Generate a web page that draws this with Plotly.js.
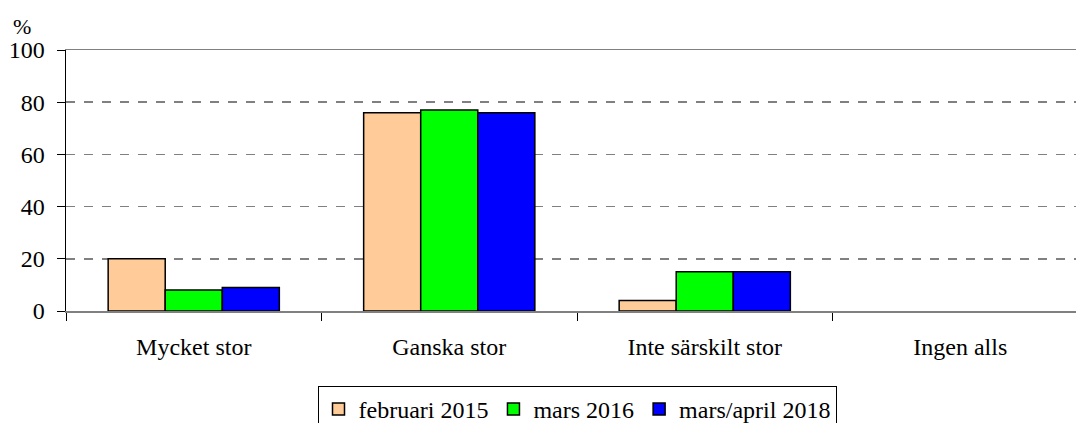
<!DOCTYPE html>
<html>
<head>
<meta charset="utf-8">
<script src="https://cdn.plot.ly/plotly-3.0.1.min.js"></script>
<style>
html, body { margin:0; padding:0; overflow:hidden; background:#fff; }
#chart { width:1100px; height:450px; }
</style>
</head>
<body>
<div id="chart"></div>
<script>
const categories = ["Mycket stor", "Ganska stor", "Inte särskilt stor", "Ingen alls"];
const seriesNames = ["februari 2015", "mars 2016", "mars/april 2018"];
const feb2015 = [20, 76, 4, 0];
const mars2016 = [8, 77, 15, 0];
const marsApril2018 = [9, 76, 15, 0];
const yTicks = [0, 20, 40, 60, 80, 100];
const colors = ["#FFCC99", "#00FF00", "#0000FF"];

const values = [feb2015, mars2016, marsApril2018];
const traces = values.map((v, i) => ({
  type: "bar",
  name: seriesNames[i],
  x: categories,
  y: v,
  marker: { color: colors[i], line: { color: "#000", width: v.map(d => d === 0 ? 0 : 1.5) } },
  hoverinfo: "skip"
}));

const fam = "Times New Roman, Liberation Serif, DejaVu Serif, serif";
const font = { family: fam, size: 24, color: "#000" };

const plotTop = 50, plotBottom = 311, H = 450;
const layout = {
  width: 1100,
  height: H,
  margin: { l: 66, r: 12, t: plotTop, b: H - plotBottom, autoexpand: false },
  paper_bgcolor: "#fff",
  plot_bgcolor: "#fff",
  font: font,
  barmode: "group",
  bargap: 0.33,
  bargroupgap: 0,
  showlegend: true,
  legend: {
    orientation: "h",
    x: 0.5, xanchor: "center",
    y: (plotBottom - 386) / (plotBottom - plotTop), yanchor: "top",
    bordercolor: "#000",
    borderwidth: 1,
    font: font,
    traceorder: "normal"
  },
  xaxis: {
    type: "category",
    showline: true,
    linecolor: "#808080",
    linewidth: 1.5,
    mirror: true,
    ticks: "outside",
    tickson: "boundaries",
    ticklen: 8,
    tickcolor: "#000",
    ticklabelstandoff: 14,
    showgrid: false,
    tickfont: font,
    automargin: false,
    fixedrange: true
  },
  yaxis: {
    range: [0, 100],
    tickvals: yTicks,
    ticktext: yTicks.map(String),
    showline: true,
    linecolor: "#000",
    linewidth: 1.5,
    ticks: "outside",
    ticklen: 8,
    tickcolor: "#000",
    ticklabelstandoff: 7,
    showgrid: true,
    gridcolor: "#808080",
    gridwidth: 1.5,
    griddash: "dash",
    zeroline: false,
    tickfont: font,
    automargin: false,
    fixedrange: true
  },
  annotations: [{
    text: "%",
    xref: "paper", yref: "paper",
    x: (22 - 66) / 1022, y: 1 + (plotTop - 26) / (plotBottom - plotTop),
    xanchor: "center", yanchor: "middle",
    showarrow: false,
    font: { family: fam, size: 22, color: "#000" }
  }]
};

Plotly.newPlot("chart", traces, layout, { displayModeBar: false, staticPlot: true });
</script>
</body>
</html>
